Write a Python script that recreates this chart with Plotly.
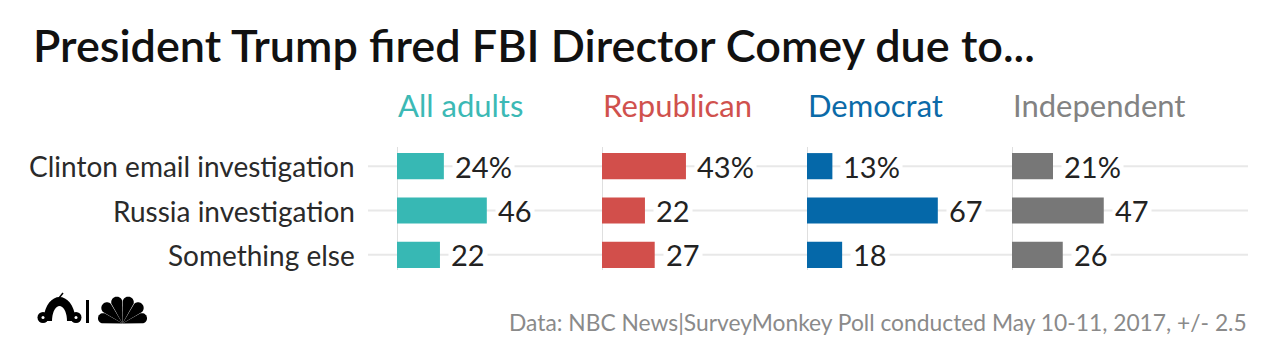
import math
import plotly.graph_objects as go

# page body adds an 8px margin; compensate so positions match the 1280x364 window
OFF = 8
W, H = 1280 - OFF, 364 - OFF

categories = ["Clinton email investigation", "Russia investigation", "Something else"]
groups = ["All adults", "Republican", "Democrat", "Independent"]
all_adults = [24, 46, 22]
republican = [43, 22, 27]
democrat = [13, 67, 18]
independent = [21, 47, 26]
series = [all_adults, republican, democrat, independent]
colors = ["#37b8b4", "#d24f4b", "#0568a9", "#777777"]
header_colors = ["#3cb9b5", "#d0514d", "#0b6aa8", "#828282"]

FONT = "Lato"
px = lambda x: (x - OFF) / W
py = lambda y: 1 - (y - OFF) / H

panel_left = 397
panel_w = 205
xmax = 105
y_top, y_bot = 144, 277

fig = go.Figure()
layout = dict(
    width=W, height=H, margin=dict(l=0, r=0, t=0, b=0),
    paper_bgcolor="white", plot_bgcolor="rgba(0,0,0,0)",
    showlegend=False, font=dict(family=FONT, color="#222"),
    bargap=0.41,
)
annotations = []
shapes = []

for i, (g, vals, c) in enumerate(zip(groups, series, colors)):
    n = "" if i == 0 else str(i + 1)
    xa, ya = "x" + n, "y" + n
    fig.add_trace(go.Bar(x=vals, y=categories, orientation="h", marker=dict(color=c, line=dict(width=0)),
                         xaxis=xa, yaxis=ya, hoverinfo="skip"))
    x0 = panel_left + panel_w * i
    layout["xaxis" + n] = dict(domain=[px(x0), px(x0 + panel_w)], range=[0, xmax], visible=False, anchor=ya)
    layout["yaxis" + n] = dict(domain=[py(y_bot), py(y_top)], type="category", categoryarray=categories,
                               range=[2.5, -0.5], visible=False, anchor=xa)
    annotations.append(dict(text=g, x=px(x0 - 1), y=py(105), xref="paper", yref="paper", xanchor="left",
                            yanchor="middle", showarrow=False, font=dict(size=31, color=header_colors[i], family=FONT)))
    for j, (cat, v) in enumerate(zip(categories, vals)):
        annotations.append(dict(text=f"{v}%" if j == 0 else str(v), x=v, y=cat, xref=xa, yref=ya,
                                xanchor="left", yanchor="middle", xshift=8, showarrow=False, bgcolor="white",
                                borderpad=2, font=dict(size=29, color="#222", family=FONT)))
    shapes.append(dict(type="line", xref=xa, yref="paper", x0=0, x1=0, y0=py(270), y1=py(147),
                       line=dict(color="#d4d4d4", width=1.5), layer="below"))

for cat in categories:
    shapes.append(dict(type="line", xref="paper", yref="y", x0=px(368), x1=px(1248), y0=cat, y1=cat,
                       line=dict(color="#e8e8e8", width=2), layer="below"))
    annotations.append(dict(text=cat, x=px(357), y=cat, xref="paper", yref="y", xanchor="right",
                            yanchor="middle", showarrow=False, font=dict(size=28, color="#2a2a2a", family=FONT)))

annotations.append(dict(text="President Trump fired FBI Director Comey due to...", x=px(31), y=py(45),
                        xref="paper", yref="paper", xanchor="left", yanchor="middle", showarrow=False,
                        font=dict(size=45, color="#111", family=FONT, weight=600)))
annotations.append(dict(text="Data: NBC News|SurveyMonkey Poll conducted May 10-11, 2017, +/- 2.5", x=px(1249),
                        y=py(322), xref="paper", yref="paper", xanchor="right", yanchor="middle", showarrow=False,
                        font=dict(size=22.8, color="#8a8a8a", family=FONT)))

# logos (decorative)
def poly(pts):
    return "M " + " L ".join(f"{px(x):.5f},{py(y):.5f}" for x, y in pts) + " Z"

cx, cy = 59.5, 321
arc = []
for k in range(0, 181, 10):
    a = math.radians(k)
    arc.append((cx + 16 * math.cos(a), cy - 24 * math.sin(a)))
for k in range(180, -1, -10):
    a = math.radians(k)
    arc.append((cx + 7.5 * math.cos(a), cy - 15 * math.sin(a)))
shapes.append(dict(type="path", xref="paper", yref="paper", path=poly(arc), fillcolor="black", line=dict(width=0)))
for ex in (43, 76):
    shapes.append(dict(type="circle", xref="paper", yref="paper", x0=px(ex - 5.5), x1=px(ex + 5.5),
                       y0=py(323), y1=py(312), fillcolor="black", line=dict(width=0)))
    shapes.append(dict(type="circle", xref="paper", yref="paper", x0=px(ex - 1.5), x1=px(ex + 1.5),
                       y0=py(319), y1=py(316), fillcolor="white", line=dict(width=0)))
shapes.append(dict(type="line", xref="paper", yref="paper", x0=px(59), x1=px(63), y0=py(298), y1=py(293),
                   line=dict(color="black", width=1.5)))
shapes.append(dict(type="line", xref="paper", yref="paper", x0=px(87.5), x1=px(87.5), y0=py(300), y1=py(323),
                   line=dict(color="black", width=3)))
bx, by = 122.5, 323.5
for k in range(6):
    th = math.radians(165 - 30 * k)
    d, w = (22, 5.6) if 0 < k < 5 else (20, 5.2)
    ux, uy = math.cos(th), -math.sin(th)
    nx, ny = -uy, ux
    ccx, ccy = bx + d * ux, by + d * uy
    pts = [(bx, by)]
    for s in range(-90, 91, 10):
        a = math.radians(s)
        pts.append((ccx + w * (math.sin(a) * nx + math.cos(a) * ux),
                    ccy + w * (math.sin(a) * ny + math.cos(a) * uy)))
    shapes.append(dict(type="path", xref="paper", yref="paper", path=poly(pts), fillcolor="black", line=dict(width=0)))

layout["annotations"] = annotations
layout["shapes"] = shapes
fig.update_layout(**layout)
fig.write_html("out.html")
